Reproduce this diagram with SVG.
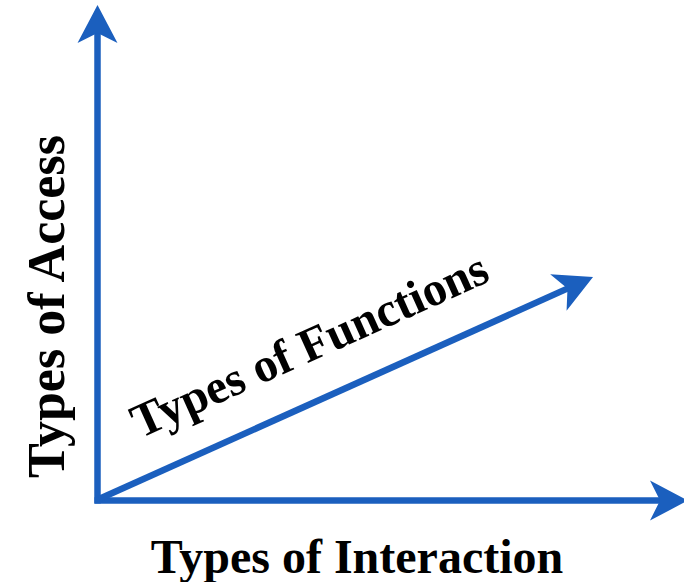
<svg xmlns="http://www.w3.org/2000/svg" width="684" height="582" viewBox="0 0 684 582">
<style>
.axis{stroke:#1b5fbe;stroke-width:6.5;fill:none;marker-end:url(#head)}
.lbl{font-family:"Liberation Serif","Times New Roman",serif;font-weight:bold;fill:#000;text-anchor:middle}
</style>
<defs>
<marker id="head" markerUnits="userSpaceOnUse" viewBox="-40 -22 42 44" markerWidth="42" markerHeight="44" refX="-27" refY="0" orient="auto">
<path d="M0,0 L-38,-20 L-28,0 L-38,20 Z" fill="#1b5fbe"/>
</marker>
</defs>
<rect width="684" height="582" fill="#fff"/>
<g id="connectors">
<line id="axis-access" class="axis" x1="97.5" y1="503.5" x2="97.5" y2="32"/>
<line id="axis-interaction" class="axis" x1="94.5" y1="500.5" x2="661" y2="500.5"/>
<line id="axis-functions" class="axis" x1="99" y1="499" x2="568.4" y2="288.1"/>
</g>
<g id="label-access">
<text class="lbl" font-size="52" transform="translate(64,306.5) rotate(-90)">Types of Access</text>
</g>
<g id="label-interaction">
<text class="lbl" font-size="48" x="357" y="573">Types of Interaction</text>
</g>
<g id="label-functions">
<text class="lbl" font-size="48" transform="translate(316,359.5) rotate(-24.25)">Types of Functions</text>
</g>
</svg>
